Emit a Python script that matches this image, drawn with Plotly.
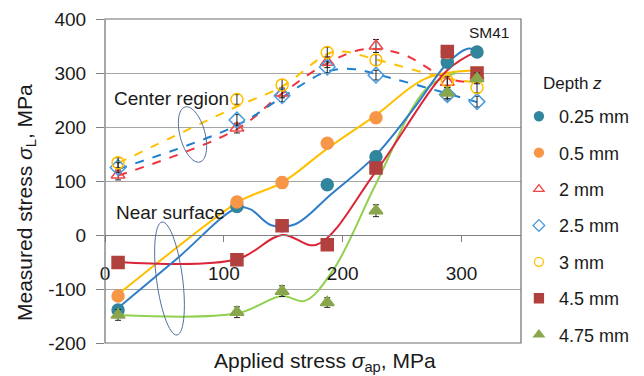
import numpy as np
import plotly.graph_objects as go

# ---------------- data ----------------
applied = [11, 111, 149, 187, 228, 288, 313]

depth_labels = ["0.25 mm", "0.5 mm", "2 mm", "2.5 mm", "3 mm", "4.5 mm", "4.75 mm"]

s_025 = [-139, 53, 17, 93, 145, 320, 339]
s_05 = [-113, 61, 97, 170, 217, 338, 298]
s_2 = [111, 198, 263, 320, 350, 283, 295]
s_25 = [125, 213, 258, 311, 296, 260, 247]
s_3 = [134, 251, 278, 338, 324, 285, 273]
s_45 = [-51, -46, 17, -18, 124, 340, 300]
s_475 = [-148, -143, -104, -125, 45, 263, 290]

err_025 = [10, 9, 9, 9, 10, 10, 10]
err_05 = [10, 9, 10, 9, 8, 9, 9]
err_2 = [9, 9, 9, 10, 12, 10, 10]
err_25 = [9, 10, 11, 10, 9, 10, 10]
err_3 = [9, 9, 10, 10, 10, 10, 10]
err_45 = [9, 10, 10, 10, 10, 9, 10]
err_475 = [10, 10, 10, 9, 11, 10, 10]

# fitted trend curves
fit_025_x = [11, 60, 111, 122, 140, 160, 190, 228, 260, 288, 305, 313]
fit_025_y = [-135, -45, 50, 48, 18, 20, 75, 148, 235, 318, 345, 342]
fit_05_x = [11, 111, 125, 149, 187, 228, 270, 313]
fit_05_y = [-110, 60, 75, 97, 160, 222, 290, 305]
fit_45_x = [11, 111, 149, 178, 228, 288, 313]
fit_45_y = [-50, -45, 0, -18, 118, 305, 340]
fit_475_x = [11, 111, 149, 168, 192, 228, 270, 295]
fit_475_y = [-148, -145, -113, -122, -65, 95, 270, 300]
fit_2_x = [11, 111, 149, 187, 218, 250, 288, 313]
fit_2_y = [110, 196, 262, 318, 344, 335, 290, 282]
fit_25_x = [11, 111, 149, 187, 210, 228, 288, 313]
fit_25_y = [122, 203, 255, 303, 307, 298, 262, 246]
fit_3_x = [11, 111, 149, 187, 200, 228, 288, 313]
fit_3_y = [133, 238, 275, 335, 340, 325, 290, 283]

x_ticks = [0, 100, 200, 300]
y_ticks = [-200, -100, 0, 100, 200, 300, 400]
y_tick_text = ["-200", "-100", "0", "100", "200", "300", "400"]

# ---------------- figure ----------------
fig = go.Figure()

lines = [
    (fit_2_x, fit_2_y, "#F0343C", "dash"),
    (fit_25_x, fit_25_y, "#1E7FD0", "dash"),
    (fit_3_x, fit_3_y, "#FFC000", "dash"),
    (fit_05_x, fit_05_y, "#FFC000", "solid"),
    (fit_475_x, fit_475_y, "#92D050", "solid"),
    (fit_45_x, fit_45_y, "#DC2438", "solid"),
    (fit_025_x, fit_025_y, "#2F7DC8", "solid"),
]
for lx, ly, c, d in lines:
    fig.add_trace(go.Scatter(x=lx, y=ly, mode="lines", showlegend=False,
                             hoverinfo="skip",
                             line=dict(color=c, width=2, dash=d, shape="spline", smoothing=1.0)))

series = [
    (s_025, err_025, "circle", "#31859C"),
    (s_05, err_05, "circle", "#F79646"),
    (s_2, err_2, "triangle-up-open", "#F04848"),
    (s_25, err_25, "diamond-open", "#4A9BDC"),
    (s_3, err_3, "circle-open", "#FFC000"),
    (s_45, err_45, "square", "#B0413E"),
    (s_475, err_475, "triangle-up", "#8AA64C"),
]
for i, (vals, err, sym, col) in enumerate(series):
    fig.add_trace(go.Scatter(
        x=applied, y=vals, mode="markers", name=depth_labels[i], showlegend=False,
        marker=dict(symbol=sym, size=12, color=col, line=dict(color=col, width=1.5)),
        error_y=dict(type="data", array=err, visible=True, color="#222222", thickness=1, width=3),
    ))
# legend entries (smaller symbols, as in the reference legend)
for i, (vals, err, sym, col) in enumerate(series):
    fig.add_trace(go.Scatter(
        x=[None], y=[None], mode="markers", name=depth_labels[i], legendgroup="g%d" % i,
        marker=dict(symbol=sym, size=9, color=col, line=dict(color=col, width=1.3)),
    ))

# page is shown with an 8 px body offset, so the figure is designed 8 px up/left
W, H = 636, 368
X0, X1, Y0, Y1 = 97, 513, 11, 335


def px2data(px, py):
    return (px - X0) / (X1 - X0) * 350.0, 400.0 - (py - Y0) / (Y1 - Y0) * 600.0


def ellipse_path(cx, cy, a, b, tilt_deg):
    t = np.linspace(0, 2 * np.pi, 61)
    th = np.deg2rad(tilt_deg)
    ex = a * np.cos(t)
    ey = b * np.sin(t)
    px = cx + ex * np.cos(th) - ey * np.sin(th)
    py = cy + ex * np.sin(th) + ey * np.cos(th)
    pts = [px2data(u, v) for u, v in zip(px, py)]
    return "M " + " L ".join("%.3f,%.3f" % p for p in pts) + " Z"


fig.add_shape(type="path", xref="x", yref="y", path=ellipse_path(192.5 - 8, 134.5 - 8, 12.5, 28.5, -15),
              line=dict(color="#4F6F9F", width=1))
fig.add_shape(type="path", xref="x", yref="y", path=ellipse_path(169.5 - 8, 278.5 - 8, 13, 57, -7.5),
              line=dict(color="#4F6F9F", width=1))

# plot box
fig.add_shape(type="rect", xref="paper", yref="paper", x0=0, x1=1, y0=0, y1=1,
              line=dict(color="#6E6E6E", width=1.2), layer="above")

fnt = "Liberation Sans, Arial, sans-serif"
annots = [
    dict(text="SM41", x=0.925, y=0.957, xanchor="center", yanchor="middle", font=dict(size=15.5)),
    dict(text="Center region", x=0.017, y=0.756, xanchor="left", yanchor="middle", font=dict(size=19)),
    dict(text="Near surface", x=0.022, y=0.404, xanchor="left", yanchor="middle", font=dict(size=19)),
    dict(text="Applied stress <i>σ</i><sub>ap</sub>, MPa", x=0.53, y=-0.058, xanchor="center",
         yanchor="middle", font=dict(size=21)),
    dict(text="Measured stress <i>σ</i><sub>L</sub>, MPa", x=-0.19, y=0.435, xanchor="center",
         yanchor="middle", textangle=-90, font=dict(size=21)),
    dict(text="Depth <i>z</i>", x=1.048, y=0.802, xanchor="left", yanchor="middle", font=dict(size=17)),
]
for a in annots:
    a.update(xref="paper", yref="paper", showarrow=False)
    a["font"].update(family=fnt, color="#1A1A1A")
    fig.add_annotation(**a)

fig.update_layout(
    width=W, height=H,
    margin=dict(l=X0, r=W - X1, t=Y0, b=H - Y1, autoexpand=False),
    plot_bgcolor="white", paper_bgcolor="white",
    font=dict(family=fnt, size=17, color="#1A1A1A"),
    showlegend=True,
    legend=dict(x=0.995, xanchor="left", y=0.756, yanchor="top", font=dict(size=18),
                tracegroupgap=10, bgcolor="rgba(0,0,0,0)", itemwidth=30),
    xaxis=dict(range=[0, 350], tickvals=x_ticks, ticks="outside", ticklen=6, tickcolor="#808080",
               showgrid=False, zeroline=False, showline=True, linecolor="#808080", linewidth=1,
               anchor="free", position=1.0 / 3.0, ticklabelstandoff=15,
               tickfont=dict(size=19)),
    yaxis=dict(range=[-200, 400], tickvals=y_ticks, ticktext=y_tick_text, ticks="outside", ticklen=8,
               tickcolor="#808080", showgrid=True, gridcolor="#A6A6A6", gridwidth=1, zeroline=False,
               showline=False, ticklabelstandoff=6, tickfont=dict(size=19)),
)

fig.write_html("out.html")
